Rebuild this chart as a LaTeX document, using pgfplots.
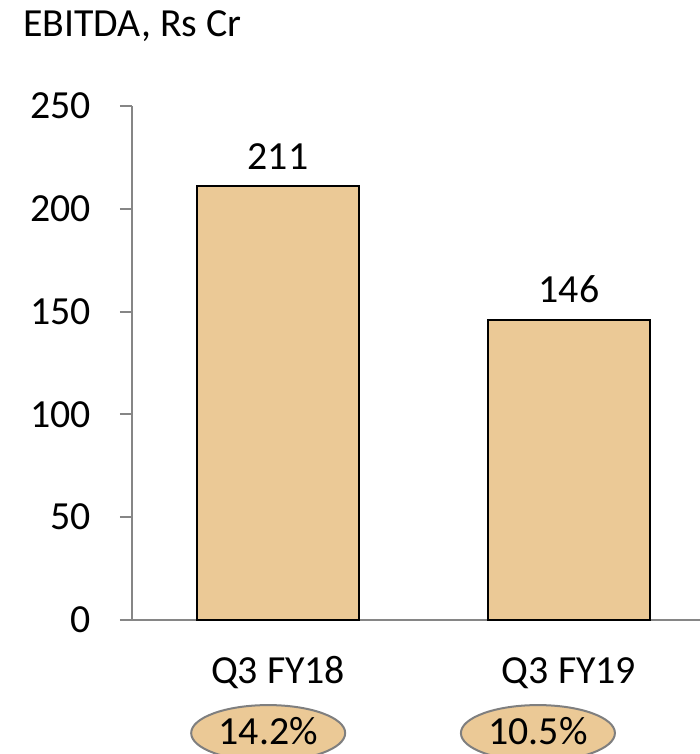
\documentclass[border=0pt]{standalone}
\usepackage{pgfplots}
\pgfplotsset{compat=1.18}
\usepackage{fontspec}
\setmainfont{Carlito}
\usetikzlibrary{shapes.geometric}
\definecolor{barfill}{RGB}{235,201,150}
\definecolor{axgray}{RGB}{134,134,134}
\definecolor{ovalgray}{RGB}{127,127,127}
\begin{document}
\fontsize{40}{46}\selectfont
\begin{tikzpicture}[x=1bp,y=1bp]
\begin{axis}[
  at={(0,0)}, anchor=south west,
  scale only axis, width=568bp, height=514bp,
  xmin=-0.502, xmax=1.450, ymin=0, ymax=250,
  clip=false,
  axis x line=bottom, axis y line=left,
  axis line style={axgray, line width=2bp, -},
  ytick={0,50,100,150,200,250},
  xtick={0,1}, xticklabels={Q3 FY18, Q3 FY19},
  tick align=outside, major tick length=12bp,
  ytick style={axgray, line width=2bp},
  xtick style={draw=none},
  every tick label/.append style={font=\fontsize{40}{46}\selectfont, black},
  /pgf/number format/assume math mode=true,
  yticklabel style={anchor=east, inner sep=0pt, xshift=-29bp},
  xticklabel style={anchor=base, inner sep=0pt, yshift=-51bp},
]
\addplot[ybar, bar width=162bp, bar shift=0pt, fill=barfill, draw=black, line width=1.5bp,
  nodes near coords,
  every node near coord/.append style={anchor=base, yshift=17bp, inner sep=0pt, black, font=\fontsize{40}{46}\selectfont}]
  coordinates {(0,211) (1,146)};
\node[ellipse, draw=ovalgray, line width=2bp, fill=barfill, minimum width=154bp, minimum height=56bp, inner sep=0pt] at (axis cs:-0.034,-55) {};
\node[ellipse, draw=ovalgray, line width=2bp, fill=barfill, minimum width=154bp, minimum height=56bp, inner sep=0pt] at (axis cs:0.893,-55) {};
\node[anchor=base, inner sep=0pt] at (axis cs:-0.034,-60.5) {14.2\%};
\node[anchor=base, inner sep=0pt] at (axis cs:0.893,-60.5) {10.5\%};
\end{axis}
\node[anchor=base west, inner sep=0pt] at (-109,583) {EBITDA, Rs Cr};
\pgfresetboundingbox
\useasboundingbox (-132,-134) rectangle (568,620);
\end{tikzpicture}
\end{document}
